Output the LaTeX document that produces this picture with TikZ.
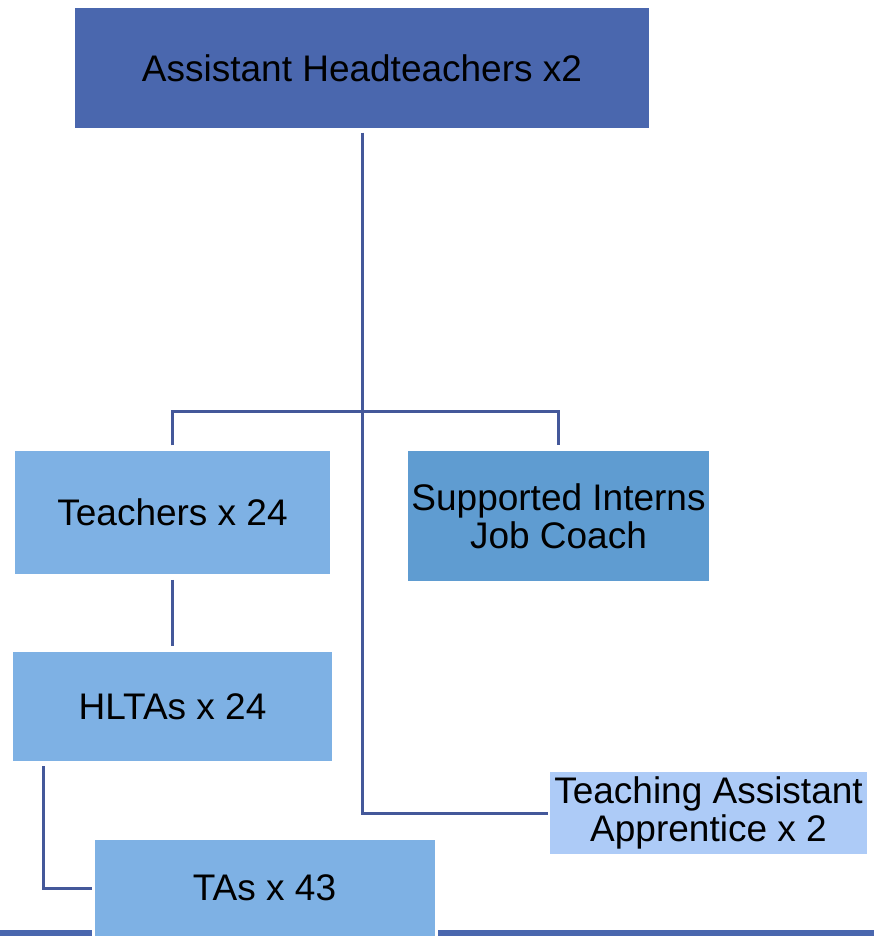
\documentclass[tikz,border=0pt]{standalone}
\usepackage{fontspec}
\setmainfont{Liberation Sans}
\definecolor{headblue}{HTML}{4A67AE}
\definecolor{staffblue}{HTML}{7EB1E4}
\definecolor{coachblue}{HTML}{5F9CD1}
\definecolor{appblue}{HTML}{ADCBF7}
\definecolor{linkblue}{HTML}{44589A}
\begin{document}
\begin{tikzpicture}[x=1pt, y=-1pt,
        post/.style={draw=white, line width=1.5pt, align=center, inner sep=0pt,
            font=\fontsize{37}{38}\selectfont},
        link/.style={draw=linkblue, line width=3pt}]
            \useasboundingbox (0, 0) rectangle (874, 936);
            \fill[headblue] (0, 930) rectangle (874, 936);
            \node[post, fill=headblue, minimum width=576pt, minimum height=122pt] (head) at (362, 68) {Assistant Headteachers x2};
            \node[post, fill=staffblue, minimum width=317pt, minimum height=125pt] (teach) at (172.5, 512.5) {Teachers x 24};
            \node[post, fill=coachblue, minimum width=303pt, minimum height=132pt] (coach) at (558.5, 516) {Supported Interns\\Job Coach};
            \node[post, fill=staffblue, minimum width=321pt, minimum height=111pt] (hlta) at (172.5, 706.5) {HLTAs x 24};
            \node[post, fill=appblue, minimum width=319pt, minimum height=84pt] (appr) at (708.5, 813) {Teaching Assistant\\Apprentice x 2};
            \node[post, draw=white, line width=3pt, fill=staffblue, minimum width=343pt, minimum height=100pt] (tas) at (264.5, 888) {TAs x 43};
            \coordinate (split) at (362, 411);
            \coordinate (hltaleg) at (43, 766);
            \draw[link] ([yshift=-3pt]head.south) |- (appr.west);
            \draw[link] ([yshift=4pt]teach.north) |- (split) -| ([yshift=4pt]coach.north);
            \draw[link] ([yshift=-4pt]teach.south) -- ([yshift=4pt]hlta.north);
            \draw[link] (hltaleg) |- (tas.west);
        \end{tikzpicture}
\end{document}
